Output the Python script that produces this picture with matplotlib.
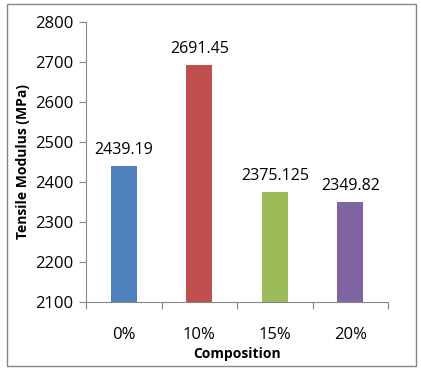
import matplotlib.pyplot as plt
from matplotlib.patches import Rectangle

categories = ['0%', '10%', '15%', '20%']
modulus = [2439.19, 2691.45, 2375.125, 2349.82]
value_labels = ['2439.19', '2691.45', '2375.125', '2349.82']
colors = ['#4F81BD', '#C0504D', '#9BBB59', '#8064A2']

plt.rcParams['font.family'] = ['Open Sans', 'DejaVu Sans']

fig = plt.figure(figsize=(4.21, 3.73), dpi=100)
ax = fig.add_axes([86/421, 1 - 302/373, (388-86)/421, (302-22)/373])

x = range(len(categories))
ax.bar(x, modulus, width=0.35, color=colors)
for xi, v, lab in zip(x, modulus, value_labels):
    ax.annotate(lab, (xi, v), xytext=(0, 6), textcoords='offset points',
                ha='center', va='bottom', fontsize=11.5)

ax.set_xlim(-0.5, 3.5)
ax.set_ylim(2100, 2800)
ax.set_yticks(range(2100, 2801, 100))
ax.set_xticks([i - 0.5 for i in range(5)])
ax.set_xticklabels([])
ax.set_xticks(list(x), minor=True)
ax.set_xticklabels(categories, minor=True, fontsize=12)
ax.tick_params(axis='x', which='minor', length=0, pad=18)
ax.tick_params(axis='x', which='major', length=5, color='#868686')
ax.tick_params(axis='y', length=5, color='#868686', labelsize=12, pad=4)
for s in ['top', 'right']:
    ax.spines[s].set_visible(False)
for s in ['left', 'bottom']:
    ax.spines[s].set_color('#868686')

ax.set_ylabel('Tensile Modulus (MPa)', fontsize=10, fontweight='bold', labelpad=4)
ax.set_xlabel('Composition', fontsize=10, fontweight='bold', labelpad=3)

fig.patches.append(Rectangle((7/421, 1 - 366/373), (416-7)/421, (366-4)/373,
                             transform=fig.transFigure, fill=False,
                             edgecolor='#868686', linewidth=1))

fig.savefig('out.png', dpi=100)
